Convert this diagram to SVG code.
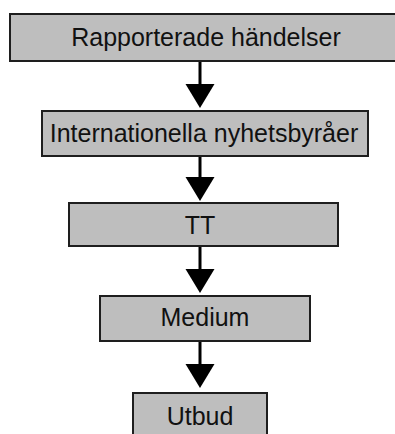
<svg xmlns="http://www.w3.org/2000/svg" xmlns:xlink="http://www.w3.org/1999/xlink" width="395" height="434" viewBox="0 0 395 434">
<style>
.box{fill:#bebebe;stroke:#1e1e1e;stroke-width:2}
.lbl{font-family:"Liberation Sans",Arial,sans-serif;font-size:25px;fill:#111;text-anchor:middle}
.ln{stroke:#000;stroke-width:3;fill:none}
</style>
<defs>
<polygon id="head" points="-14.5,0 14.5,0 0,24" fill="#000"/>
</defs>
<rect width="395" height="434" fill="#fff"/>
<g id="connectors">
<line class="ln" x1="200" y1="61" x2="200" y2="86"/><use xlink:href="#head" x="200" y="84"/>
<line class="ln" x1="200" y1="156" x2="200" y2="179"/><use xlink:href="#head" x="200" y="177"/>
<line class="ln" x1="200" y1="246" x2="200" y2="271"/><use xlink:href="#head" x="200" y="269"/>
<line class="ln" x1="200" y1="341" x2="200" y2="366"/><use xlink:href="#head" x="200" y="364"/>
</g>
<g id="n1"><rect class="box" x="10" y="14" width="392" height="47"/><text class="lbl" x="206" y="46">Rapporterade händelser</text></g>
<g id="n2"><rect class="box" x="42" y="111" width="326" height="45"/><text class="lbl" x="204" y="142">Internationella nyhetsbyråer</text></g>
<g id="n3"><rect class="box" x="69" y="203" width="269" height="43"/><text class="lbl" x="200" y="234">TT</text></g>
<g id="n4"><rect class="box" x="100" y="296" width="210" height="45"/><text class="lbl" x="205" y="326">Medium</text></g>
<g id="n5"><rect class="box" x="133" y="393" width="134" height="45"/><text class="lbl" x="200" y="425">Utbud</text></g>
</svg>
